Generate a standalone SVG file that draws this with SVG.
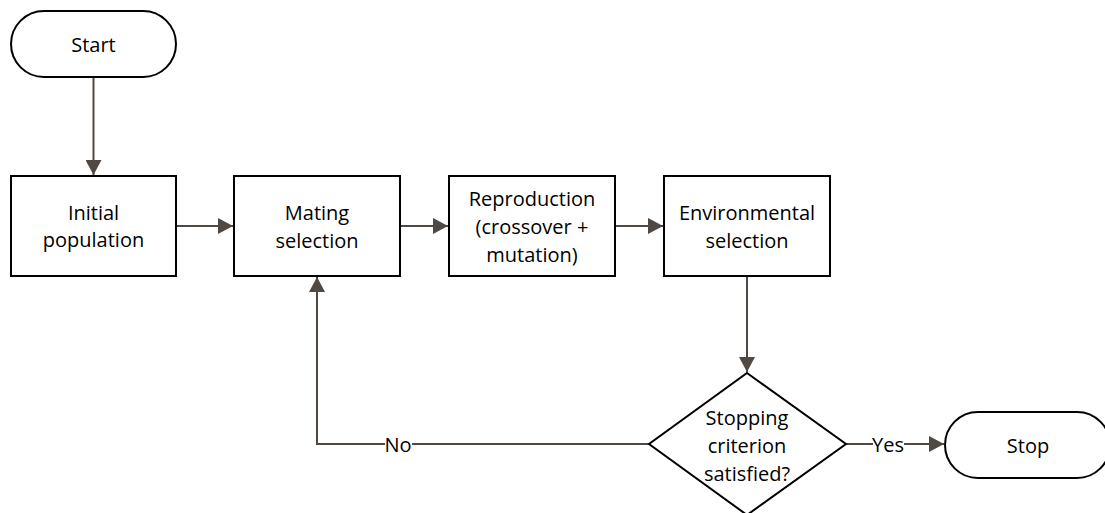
<svg xmlns="http://www.w3.org/2000/svg" width="1105" height="513" viewBox="0 0 1105 513">
<style>
.n{fill:#fff;stroke:#000;stroke-width:2}
.t{font-family:"Open Sans","Liberation Sans",sans-serif;font-size:20px;fill:#000;text-anchor:middle;dominant-baseline:central}
.c{fill:none;stroke:#504843;stroke-width:2}
.l{font-family:"Open Sans","Liberation Sans",sans-serif;font-size:20px;fill:#000;text-anchor:middle;dominant-baseline:central}
</style>
<defs>
<marker id="a" markerWidth="16" markerHeight="16" viewBox="0 0 16 16" refX="15" refY="8" orient="auto" markerUnits="userSpaceOnUse">
<path d="M0,0 L15,8 L0,16 Z" fill="#504843"/>
</marker>
</defs>
<g id="connectors">
<path class="c" d="M93.5,77 V175" marker-end="url(#a)"/>
<path class="c" d="M176,226 H233" marker-end="url(#a)"/>
<path class="c" d="M400,226 H448" marker-end="url(#a)"/>
<path class="c" d="M615,226 H663" marker-end="url(#a)"/>
<path class="c" d="M747,276 V372" marker-end="url(#a)"/>
<path class="c" d="M649,444 H317 V277" marker-end="url(#a)"/>
<path class="c" d="M846,444 H944" marker-end="url(#a)"/>
<rect x="385" y="432" width="27" height="24" fill="#fff"/>
<text class="l" x="398" y="444">No</text>
<rect x="873" y="432" width="31" height="24" fill="#fff"/>
<text class="l" x="888" y="444">Yes</text>
</g>
<g id="start">
<rect class="n" x="11" y="11" width="165" height="66" rx="33"/>
<text class="t" x="93.5" y="44">Start</text>
</g>
<g id="initial">
<rect class="n" x="11" y="176" width="165" height="100"/>
<text class="t" x="93.5" y="212">Initial</text>
<text class="t" x="93.5" y="239">population</text>
</g>
<g id="mating">
<rect class="n" x="234" y="176" width="166" height="100"/>
<text class="t" x="317" y="212">Mating</text>
<text class="t" x="317" y="240">selection</text>
</g>
<g id="reproduction">
<rect class="n" x="449" y="176" width="166" height="100"/>
<text class="t" x="532" y="198">Reproduction</text>
<text class="t" x="532" y="226">(crossover +</text>
<text class="t" x="532" y="254">mutation)</text>
</g>
<g id="environmental">
<rect class="n" x="664" y="176" width="166" height="100"/>
<text class="t" x="747" y="212">Environmental</text>
<text class="t" x="747" y="240">selection</text>
</g>
<g id="decision">
<path class="n" d="M747,373 L846,444 L747,515 L649,444 Z"/>
<text class="t" x="747" y="417">Stopping</text>
<text class="t" x="747" y="445">criterion</text>
<text class="t" x="747" y="473">satisfied?</text>
</g>
<g id="stop">
<rect class="n" x="945" y="412" width="165" height="66" rx="33"/>
<text class="t" x="1028" y="445">Stop</text>
</g>
</svg>
